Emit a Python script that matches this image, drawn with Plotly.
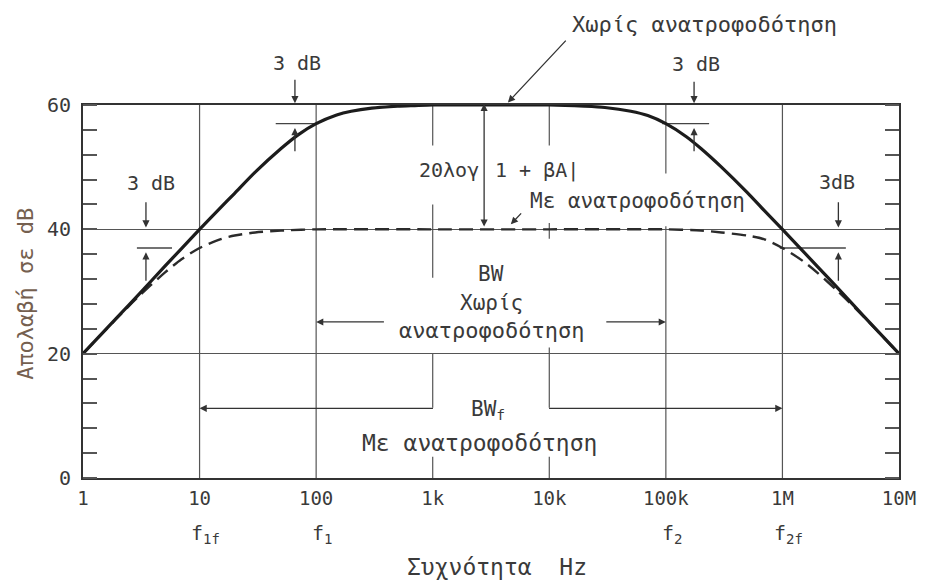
import plotly.graph_objects as go
import math

# Gain of the amplifier without feedback (open loop), frequency in Hz, gain in dB
freq_open = [1, 2, 3, 5, 7, 10, 15, 20, 30, 50, 70, 100, 150, 200, 300, 500, 700,
             1e3, 2e3, 5e3, 1e4, 2e4, 3e4, 5e4, 7e4, 1e5, 1.5e5, 2e5, 3e5, 5e5, 7e5,
             1e6, 2e6, 3e6, 5e6, 1e7]
gain_open = [20.0, 26.0, 29.5, 34.0, 36.9, 40.0, 43.4, 45.8, 49.2, 53.0, 55.2, 57.0, 58.4, 59.0, 59.5, 59.8, 59.9,
             60.0, 60.0, 60.0, 60.0, 59.8, 59.6, 59.0, 58.3, 57.0, 54.9, 53.0, 50.0, 45.9, 43.0,
             40.0, 34.0, 30.5, 26.0, 20.0]

# Gain with negative feedback
freq_fb = [1, 2, 3, 5, 7, 10, 15, 20, 30, 50, 100, 1e3, 1e4, 1e5,
           2e5, 3e5, 5e5, 7e5, 1e6, 1.5e6, 2e6, 3e6, 5e6, 1e7]
gain_fb = [20.0, 25.9, 29.2, 33.0, 35.2, 37.0, 38.4, 39.0, 39.5, 39.8, 40.0, 40.0, 40.0, 40.0,
           39.8, 39.5, 39.0, 38.4, 37.0, 34.9, 33.0, 30.0, 25.9, 20.0]

# Axis ticks
x_tickvals = [1, 10, 100, 1e3, 1e4, 1e5, 1e6, 1e7]
x_ticktext = ["1", "10", "100", "1k", "10k", "100k", "1M", "10M"]
y_tickvals = [0, 20, 40, 60]

# Corner frequencies (Hz)
corner_freqs = [10, 100, 1e5, 1e6]
corner_names = ["f<sub>1f</sub>", "f<sub>1</sub>", "f<sub>2</sub>", "f<sub>2f</sub>"]

FONT = "DejaVu Sans Mono"
INK = "#2b2b2b"
TXT = "#3a3a3a"

W, H = 928, 580
ML, MR, MT, MB = 83, 23, 105, 102
X_DEC = 7.0            # decades shown on the x axis
Y_SPAN = 60.0          # dB shown on the y axis
PX_PER_DEC = (W - ML - MR) / X_DEC
PX_PER_DB = (H - MT - MB) / Y_SPAN

fig = go.Figure()

# Vertical reference lines at the decades (broken where labels sit)
grid_segments = [
    (10, 0, 60), (100, 0, 60), (1e6, 0, 60),
    (1e3, 60, 53.5), (1e3, 44.0, 32.2), (1e3, 20.0, 11.3), (1e3, 3.4, 0),
    (1e4, 60, 53.5), (1e4, 41.0, 38.5), (1e4, 21.0, 11.3), (1e4, 3.4, 0),
    (1e5, 60, 49.0), (1e5, 40.5, 0),
]
gx, gy = [], []
for f, a, b in grid_segments:
    gx += [f, f, None]
    gy += [a, b, None]
fig.add_trace(go.Scatter(x=gx, y=gy, mode="lines",
                         line=dict(color="#555555", width=1.2),
                         hoverinfo="skip", showlegend=False))

# Short level bars marking the -3 dB points
bars = [(45, 105, 57.0), (9.3e4, 2.35e5, 57.0), (2.9, 5.8, 37.0), (9.5e5, 3.5e6, 37.0)]
bx, by = [], []
for f0, f1, lvl in bars:
    bx += [f0, f1, None]
    by += [lvl, lvl, None]
fig.add_trace(go.Scatter(x=bx, y=by, mode="lines",
                         line=dict(color="#444444", width=1.3),
                         hoverinfo="skip", showlegend=False))

# Response curves
fig.add_trace(go.Scatter(x=freq_fb, y=gain_fb, mode="lines",
                         line=dict(color=INK, width=2.4, dash="14px,7px",
                                   shape="spline", smoothing=0.7),
                         name="Με ανατροφοδότηση", showlegend=False))
fig.add_trace(go.Scatter(x=freq_open, y=gain_open, mode="lines",
                         line=dict(color="#1c1c1c", width=3.2,
                                   shape="spline", smoothing=0.7),
                         name="Χωρίς ανατροφοδότηση", showlegend=False))

L = math.log10
annotations = []


def arrow(xh, yh, xt, yt, both=False):
    """Arrow from (xt, yt) to (xh, yh); frequencies in Hz, levels in dB."""
    annotations.append(dict(
        x=L(xh), y=yh / Y_SPAN, xref="x", yref="paper",
        ax=(L(xt) - L(xh)) * PX_PER_DEC, ay=-(yt - yh) * PX_PER_DB,
        axref="pixel", ayref="pixel",
        text="", showarrow=True, arrowhead=2, arrowsize=1.1, arrowwidth=1.3,
        arrowcolor="#333333", arrowside="end+start" if both else "end",
        startarrowhead=2, startarrowsize=1.1, standoff=0, startstandoff=0))


def label(f, y, text, size=21, anchor="center", color=TXT, xref="x", **kw):
    annotations.append(dict(
        x=L(f) if xref == "x" else f, y=y / Y_SPAN, xref=xref, yref="paper", text=text,
        showarrow=False, xanchor=anchor, yanchor="middle",
        font=dict(family=FONT, size=size, color=color), **kw))


# Curve label at the top with its pointer
label(10 ** 4.18, 72.9, "Χωρίς ανατροφοδότηση", size=22, anchor="left")
arrow(10 ** 3.645, 60.4, 10 ** 4.15, 70.6)

# -3 dB markers
label(10 ** 1.84, 66.8, "3 dB", size=20)
arrow(10 ** 1.818, 60.3, 10 ** 1.818, 64.3)
arrow(10 ** 1.818, 56.3, 10 ** 1.818, 52.3)

label(10 ** 5.26, 66.6, "3 dB", size=20)
arrow(10 ** 5.242, 60.3, 10 ** 5.242, 64.0)
arrow(10 ** 5.242, 56.3, 10 ** 5.242, 52.3)

label(10 ** 0.58, 47.4, "3 dB", size=20)
arrow(10 ** 0.54, 40.3, 10 ** 0.54, 44.6)
arrow(10 ** 0.54, 36.3, 10 ** 0.54, 31.5)

label(10 ** 6.47, 47.6, "3dB", size=20)
arrow(10 ** 6.48, 40.3, 10 ** 6.48, 44.6)
arrow(10 ** 6.48, 36.3, 10 ** 6.48, 31.5)

# Feedback amount between the two plateaus
arrow(10 ** 3.441, 60.2, 10 ** 3.441, 40.2, both=True)
label(10 ** 3.41, 49.5, "20λογ", size=20, anchor="right")
label(10 ** 3.52, 49.5, "1 + βA|", size=20, anchor="left")

# Label for the feedback curve
label(10 ** 3.82, 44.6, "Με ανατροφοδότηση", size=21, anchor="left")
arrow(10 ** 3.67, 40.8, 10 ** 3.77, 42.8)

# Bandwidth without feedback
label(10 ** 3.5, 32.8, "BW", size=21)
label(10 ** 3.5, 28.2, "Χωρίς", size=21)
label(10 ** 3.5, 23.8, "ανατροφοδότηση", size=22)
arrow(100, 25.1, 10 ** 2.59, 25.1)
arrow(1e5, 25.1, 10 ** 4.48, 25.1)

# Bandwidth with feedback
label(10 ** 3.47, 10.9, "BW<sub>f</sub>", size=21)
label(10 ** 3.40, 5.6, "Με ανατροφοδότηση", size=23)
arrow(10, 11.2, 1e3, 11.2)
arrow(1e6, 11.2, 1e4, 11.2)

# Corner frequency names under the axis
for f, name in zip(corner_freqs, corner_names):
    label(f * 1.12, -9.0, name, size=20)

# Axis titles
label(10 ** 3.55, -14.3, "Συχνότητα  Hz", size=23)
label(-0.07, 29.6, "Απολαβή σε dB", size=22, color="#75604f", xref="paper", textangle=-90)

fig.update_layout(
    width=W, height=H,
    margin=dict(l=ML, r=MR, t=MT, b=MB),
    paper_bgcolor="white", plot_bgcolor="white",
    showlegend=False, hovermode=False,
    annotations=annotations,
    font=dict(family=FONT, color=TXT),
    xaxis=dict(
        type="log", range=[0, X_DEC],
        tickmode="array", tickvals=x_tickvals, ticktext=x_ticktext,
        ticks="", showgrid=False, zeroline=False,
        showline=True, linecolor="#333333", linewidth=2, mirror=True,
        tickfont=dict(family=FONT, size=19, color=TXT),
        ticklabelstandoff=2,
    ),
    yaxis=dict(
        range=[0, Y_SPAN], tickmode="array", tickvals=y_tickvals,
        ticks="", showgrid=True, gridcolor="#555555", gridwidth=1.2,
        zeroline=False,
        showline=True, linecolor="#333333", linewidth=2, mirror="allticks",
        tickfont=dict(family=FONT, size=20, color=TXT),
        ticklabelstandoff=6,
        minor=dict(tickmode="linear", tick0=0, dtick=4, ticks="inside",
                   ticklen=14, tickwidth=2, tickcolor="#555555"),
    ),
)

fig.write_html("out.html")
